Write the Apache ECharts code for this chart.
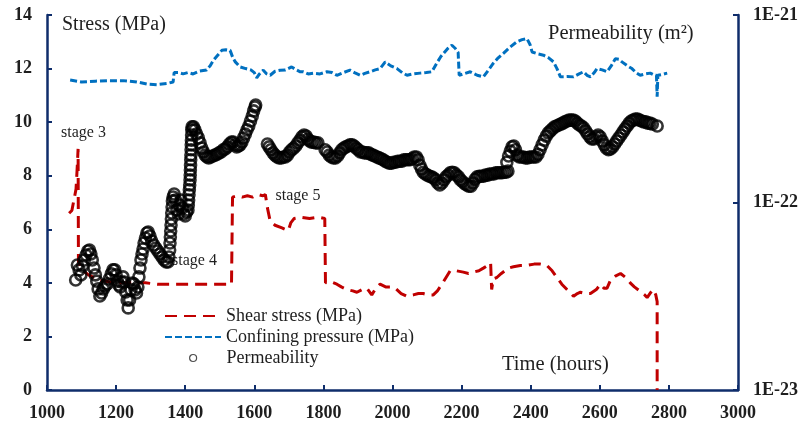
<!DOCTYPE html>
<html>
<head>
<meta charset="utf-8">
<script src="https://cdn.jsdelivr.net/npm/echarts@6/dist/echarts.min.js"></script>
<style>
  html, body { margin: 0; padding: 0; background: #fff; }
  #chart { width: 803px; height: 425px; }
</style>
</head>
<body>
<div id="chart"></div>
<script>
// Time in hours, stress in MPa
const shearStress = [
  [1064,6.6],[1072,6.7],[1078,7.1],[1084,7.5],[1087,8.2],[1090,9.0],[1091,4.8],[1100,4.5],[1120,4.3],
  [1150,4.1],[1200,4.0],[1250,4.0],[1285,4.0],[1320,3.95],[1360,3.95],[1400,3.95],[1440,3.95],
  [1480,3.95],[1520,3.95],[1534,3.95],[1537,7.2],[1550,7.25],[1565,7.2],[1580,7.25],[1595,7.2],
  [1610,7.3],[1625,7.25],[1632,7.3],[1638,6.8],[1646,6.3],[1660,6.15],[1680,6.05],[1698,5.95],
  [1706,6.25],[1715,6.4],[1735,6.45],[1760,6.4],[1785,6.45],[1804,6.4],[1806,4.0],[1820,4.05],
  [1839,3.95],[1852,3.85],[1868,3.75],[1885,3.7],[1897,3.65],[1912,3.75],[1926,3.8],[1940,3.55],
  [1952,3.8],[1964,3.95],[1980,3.85],[1995,3.85],[2008,3.8],[2025,3.6],[2041,3.5],[2060,3.55],
  [2075,3.6],[2089,3.6],[2104,3.55],[2118,3.55],[2130,3.7],[2143,3.95],[2155,4.2],[2167,4.45],
  [2185,4.45],[2205,4.4],[2220,4.35],[2234,4.4],[2250,4.45],[2263,4.55],[2275,4.65],[2284,4.75],
  [2287,3.75],[2292,4.15],[2302,4.2],[2315,4.35],[2335,4.55],[2350,4.6],[2370,4.65],[2389,4.65],
  [2410,4.7],[2428,4.7],[2447,4.65],[2462,4.45],[2476,4.2],[2490,3.95],[2505,3.75],[2524,3.5],
  [2535,3.6],[2544,3.65],[2560,3.6],[2573,3.6],[2590,3.75],[2602,3.95],[2612,3.8],[2621,3.8],
  [2631,4.1],[2645,4.25],[2660,4.35],[2675,4.2],[2688,4.0],[2700,3.85],[2715,3.7],[2730,3.55],
  [2737,3.45],[2748,3.65],[2755,3.75],[2762,3.55],[2766,3.3],[2766,0]
];

const confiningPressure = [
  [1067,11.57],[1100,11.5],[1140,11.53],[1180,11.55],[1220,11.55],[1260,11.5],[1290,11.42],
  [1318,11.4],[1350,11.45],[1365,11.5],[1368,11.85],[1380,11.85],[1394,11.8],[1408,11.85],
  [1423,11.8],[1440,11.9],[1462,11.95],[1472,12.1],[1481,12.3],[1494,12.5],[1506,12.68],
  [1518,12.7],[1530,12.68],[1538,12.4],[1545,12.25],[1559,12.06],[1575,12.0],[1590,11.95],
  [1600,11.85],[1607,11.65],[1615,11.8],[1626,11.94],[1636,11.8],[1646,11.75],[1660,11.9],
  [1675,11.94],[1690,11.95],[1708,12.06],[1722,11.95],[1733,11.88],[1742,11.88],[1756,11.8],
  [1771,11.83],[1790,11.8],[1810,11.88],[1825,11.85],[1839,11.75],[1858,11.85],[1877,11.94],
  [1890,11.85],[1907,11.75],[1920,11.82],[1935,11.88],[1950,11.95],[1964,12.0],[1979,12.25],
  [1995,12.1],[2013,12.0],[2028,11.85],[2042,11.75],[2060,11.8],[2080,11.83],[2098,11.85],
  [2114,11.88],[2128,12.2],[2140,12.45],[2150,12.6],[2160,12.75],[2172,12.87],[2182,12.75],
  [2190,12.6],[2193,11.75],[2196,11.69],[2210,11.82],[2225,11.88],[2245,11.75],[2263,11.69],
  [2278,11.95],[2292,12.2],[2306,12.4],[2321,12.57],[2340,12.8],[2360,13.0],[2375,13.08],
  [2389,13.12],[2398,12.9],[2404,12.62],[2420,12.55],[2437,12.5],[2452,12.4],[2466,12.25],
  [2476,12.0],[2486,11.69],[2505,11.7],[2524,11.69],[2540,11.8],[2553,11.88],[2563,11.75],
  [2573,11.69],[2584,11.85],[2592,12.0],[2607,11.95],[2621,11.88],[2633,12.1],[2645,12.37],
  [2655,12.35],[2664,12.25],[2680,12.1],[2693,12.0],[2705,11.85],[2717,11.75],[2732,11.8],
  [2746,11.83],[2758,11.75],[2764,11.75],[2766,10.95],[2768,11.75],[2780,11.78],[2795,11.83]
];

// Permeability in m^2, one array per continuous measurement run
const permeabilityRun1 = [
  [1083,3.86e-23],[1088,4.64e-23],[1093,4.37e-23],[1098,4.11e-23],[1103,4.58e-23],[1108,4.94e-23],
  [1113,5.25e-23],[1118,5.51e-23],[1123,5.58e-23],[1127,5.31e-23],[1131,4.94e-23],[1136,4.47e-23],
  [1140,4.11e-23],[1144,3.81e-23],[1148,3.46e-23],[1153,3.17e-23],[1158,3.29e-23],[1163,3.46e-23],
  [1168,3.59e-23],[1174,3.68e-23],[1180,3.91e-23],[1186,4.16e-23],[1191,4.37e-23],[1196,4.37e-23],
  [1200,4.11e-23],[1204,3.81e-23],[1208,3.63e-23],[1212,3.54e-23],[1216,3.77e-23],[1220,4.01e-23],
  [1224,3.77e-23],[1228,3.33e-23],[1232,3.02e-23],[1235,2.74e-23],[1239,3.02e-23],[1243,3.42e-23],
  [1247,3.72e-23],[1251,3.68e-23],[1255,3.42e-23],[1259,3.29e-23],[1263,3.54e-23],[1266,4.01e-23],
  [1269,4.47e-23],[1272,4.94e-23],[1275,5.31e-23],[1278,5.65e-23],[1281,6.08e-23],[1285,6.47e-23],
  [1289,6.88e-23],[1293,6.96e-23],[1298,6.63e-23],[1303,6.23e-23],[1309,5.93e-23],[1315,5.72e-23],
  [1321,5.51e-23],[1327,5.31e-23],[1333,5.12e-23],[1339,4.94e-23],[1345,4.82e-23],[1350,4.82e-23],
  [1353,5.12e-23],[1355,5.58e-23],[1356,6.08e-23],[1357,6.55e-23],[1358,7.05e-23],[1359,7.59e-23],
  [1360,8.17e-23],[1361,8.79e-23],[1362,9.46e-23],[1363,1.02e-22],[1365,1.07e-22],[1368,1.11e-22],
  [1372,1.03e-22],[1376,9.12e-23],[1380,8.68e-23],[1384,9.70e-23],[1388,1.03e-22],[1392,9.35e-23],
  [1396,8.68e-23],[1400,8.47e-23],[1404,8.90e-23],[1408,9.12e-23],[1409,9.70e-23],[1410,1.03e-22],
  [1411,1.10e-22],[1412,1.17e-22],[1413,1.24e-22],[1414,1.32e-22],[1414.5,1.40e-22],[1415,1.49e-22],
  [1415.5,1.58e-22],[1416,1.69e-22],[1416.5,1.79e-22],[1417,1.91e-22],[1417.5,2.03e-22],[1418,2.15e-22],
  [1418.5,2.29e-22],[1419,2.44e-22],[1420,2.53e-22],[1424,2.53e-22],[1428,2.44e-22],[1433,2.32e-22],
  [1438,2.21e-22],[1443,2.08e-22],[1448,1.95e-22],[1453,1.86e-22],[1458,1.79e-22],[1463,1.75e-22],
  [1468,1.73e-22],[1474,1.75e-22],[1480,1.77e-22],[1486,1.79e-22],[1492,1.81e-22],[1498,1.84e-22],
  [1504,1.86e-22],[1510,1.91e-22],[1516,1.93e-22],[1522,1.98e-22],[1528,2.05e-22],[1534,2.10e-22],
  [1539,2.10e-22],[1544,2.03e-22],[1549,1.98e-22],[1554,2.00e-22],[1559,2.03e-22],[1564,2.10e-22],
  [1569,2.21e-22],[1574,2.32e-22],[1579,2.44e-22],[1584,2.56e-22],[1589,2.72e-22],[1594,2.89e-22],
  [1598,3.08e-22],[1602,3.23e-22],[1604,3.31e-22]
];
const permeabilityRun2 = [
  [1638,2.05e-22],[1643,1.98e-22],[1648,1.91e-22],[1654,1.84e-22],[1660,1.79e-22],[1666,1.75e-22],
  [1672,1.73e-22],[1678,1.73e-22],[1684,1.75e-22],[1690,1.75e-22],[1696,1.79e-22],[1702,1.86e-22],
  [1708,1.91e-22],[1714,1.95e-22],[1720,2.00e-22],[1726,2.08e-22],[1732,2.15e-22],[1738,2.24e-22],
  [1744,2.29e-22],[1750,2.26e-22],[1755,2.18e-22],[1760,2.13e-22],[1766,2.10e-22],[1772,2.10e-22],
  [1778,2.08e-22],[1784,2.08e-22]
];
const permeabilityRun3 = [
  [1805,1.91e-22],[1811,1.86e-22],[1817,1.79e-22],[1823,1.75e-22],[1829,1.73e-22],[1835,1.73e-22],
  [1841,1.77e-22],[1847,1.84e-22],[1853,1.91e-22],[1859,1.95e-22],[1865,1.98e-22],[1871,2.00e-22],
  [1877,2.03e-22],[1883,2.03e-22],[1889,2.00e-22],[1895,1.95e-22],[1901,1.91e-22],[1907,1.86e-22],
  [1913,1.86e-22],[1919,1.84e-22],[1925,1.84e-22],[1931,1.84e-22],[1937,1.81e-22],[1943,1.79e-22],
  [1949,1.77e-22],[1955,1.75e-22],[1961,1.73e-22],[1967,1.71e-22],[1973,1.69e-22],[1979,1.66e-22],
  [1985,1.64e-22],[1991,1.62e-22],[1997,1.62e-22],[2003,1.64e-22],[2009,1.64e-22],[2015,1.66e-22],
  [2021,1.66e-22],[2027,1.66e-22],[2033,1.69e-22],[2039,1.69e-22],[2045,1.69e-22],[2051,1.69e-22],
  [2057,1.71e-22],[2063,1.75e-22],[2069,1.75e-22],[2074,1.69e-22],[2079,1.58e-22],[2084,1.51e-22],
  [2089,1.45e-22],[2095,1.42e-22],[2101,1.40e-22],[2107,1.38e-22],[2113,1.37e-22],[2119,1.35e-22],
  [2125,1.32e-22],[2131,1.27e-22],[2137,1.24e-22],[2143,1.27e-22],[2149,1.32e-22],[2155,1.37e-22],
  [2161,1.40e-22],[2167,1.44e-22],[2173,1.45e-22],[2179,1.44e-22],[2185,1.40e-22],[2191,1.37e-22],
  [2197,1.32e-22],[2203,1.29e-22],[2209,1.26e-22],[2215,1.24e-22],[2221,1.22e-22],[2227,1.22e-22],
  [2233,1.27e-22],[2239,1.33e-22],[2245,1.37e-22],[2251,1.38e-22],[2257,1.38e-22],[2263,1.38e-22],
  [2269,1.40e-22],[2275,1.40e-22],[2281,1.42e-22],[2287,1.42e-22],[2293,1.42e-22],[2299,1.44e-22],
  [2305,1.44e-22],[2311,1.44e-22],[2317,1.44e-22],[2323,1.45e-22],[2329,1.45e-22],[2334,1.47e-22]
];
const permeabilityRun4 = [
  [2331,1.64e-22],[2336,1.77e-22],[2341,1.88e-22],[2346,1.98e-22],[2351,2.00e-22],[2356,1.91e-22],
  [2361,1.79e-22],[2367,1.75e-22],[2373,1.75e-22],[2379,1.75e-22],[2385,1.73e-22],[2391,1.73e-22],
  [2397,1.75e-22],[2403,1.75e-22],[2409,1.75e-22],[2415,1.75e-22],[2421,1.81e-22],[2427,1.91e-22],
  [2433,2.03e-22],[2439,2.15e-22],[2445,2.26e-22],[2451,2.35e-22],[2457,2.41e-22],[2463,2.47e-22],
  [2469,2.53e-22],[2475,2.56e-22],[2481,2.59e-22],[2487,2.62e-22],[2493,2.65e-22],[2499,2.69e-22],
  [2505,2.72e-22],[2511,2.75e-22],[2517,2.75e-22],[2523,2.75e-22],[2529,2.72e-22],[2535,2.65e-22],
  [2541,2.59e-22],[2547,2.56e-22],[2553,2.50e-22],[2559,2.41e-22],[2565,2.32e-22],[2571,2.24e-22],
  [2577,2.18e-22],[2583,2.18e-22],[2589,2.24e-22],[2595,2.29e-22],[2601,2.24e-22],[2607,2.13e-22],
  [2613,2.03e-22],[2619,1.95e-22],[2625,1.91e-22],[2631,1.93e-22],[2637,1.98e-22],[2643,2.05e-22],
  [2649,2.13e-22],[2655,2.21e-22],[2661,2.29e-22],[2667,2.38e-22],[2673,2.47e-22],[2679,2.56e-22],
  [2685,2.65e-22],[2691,2.72e-22],[2697,2.75e-22],[2703,2.79e-22],[2709,2.79e-22],[2715,2.75e-22],
  [2721,2.72e-22],[2727,2.69e-22],[2733,2.69e-22],[2739,2.65e-22],[2745,2.65e-22],[2752,2.62e-22],
  [2766,2.56e-22]
];
const permeabilityRuns = [permeabilityRun1, permeabilityRun2, permeabilityRun3, permeabilityRun4];

const xTickStep = 200;
const stressTickStep = 2;

// The log axis works in multiples of 1E-23 m^2 (very small raw magnitudes
// lose precision inside the scale's rounding), labels are written back in m^2.
const PERM_UNIT = 1e-23;
const PERM_UNIT_EXP = -23;
const toUnit = p => [p[0], p[1] / PERM_UNIT];

const NAVY = '#0f2d6b';
const SERIF = '"Liberation Serif", "Times New Roman", serif';
const TEXT = '#1e1e1e';

const permPoints = [].concat(...permeabilityRuns).map(toUnit);

const chart = echarts.init(document.getElementById('chart'), null, { renderer: 'canvas' });

const axisLabelStyle = { fontFamily: SERIF, fontWeight: 'bold', fontSize: 18, color: TEXT };

chart.setOption({
  animation: false,
  backgroundColor: '#fff',
  grid: { left: 47, right: 65, top: 15, bottom: 35, containLabel: false },
  xAxis: {
    type: 'value', min: 1000, max: 3000, interval: xTickStep,
    axisLine: { onZero: false, lineStyle: { color: NAVY, width: 2.5 } },
    axisTick: { inside: true, length: 5, lineStyle: { color: NAVY, width: 2 } },
    axisLabel: Object.assign({ margin: 14, formatter: v => String(v) }, axisLabelStyle),
    splitLine: { show: false }
  },
  yAxis: [
    {
      type: 'value', min: 0, max: 14, interval: stressTickStep, position: 'left',
      axisLine: { show: true, onZero: false, lineStyle: { color: NAVY, width: 2.5 } },
      axisTick: { show: true, inside: true, length: 5, lineStyle: { color: NAVY, width: 2 } },
      axisLabel: Object.assign({ margin: 15 }, axisLabelStyle),
      splitLine: { show: false }
    },
    {
      type: 'log', logBase: 10, min: 1, max: 100, position: 'right',
      axisLine: { show: true, onZero: false, lineStyle: { color: NAVY, width: 2.5 } },
      axisTick: { show: true, inside: true, length: 5, lineStyle: { color: NAVY, width: 2 } },
      axisLabel: Object.assign({
        margin: 15,
        formatter: v => '1E' + (Math.round(Math.log10(v)) + PERM_UNIT_EXP)
      }, axisLabelStyle),
      splitLine: { show: false }
    }
  ],
  legend: [
    {
      data: ['Shear stress (MPa)', 'Confining pressure (MPa)'],
      orient: 'vertical', left: 164, top: 307, padding: 0,
      itemWidth: 56, itemHeight: 14, itemGap: 3,
      itemStyle: { opacity: 0 },
      textStyle: { fontFamily: SERIF, fontSize: 18, color: TEXT },
      selectedMode: false
    },
    {
      data: ['Permeability'],
      orient: 'vertical', left: 189, top: 349, padding: 0,
      itemWidth: 7, itemHeight: 7, icon: 'circle',
      itemStyle: { color: 'rgba(0,0,0,0)', borderWidth: 1.2, borderColor: '#222' },
      textStyle: { fontFamily: SERIF, fontSize: 18, color: TEXT, padding: [0, 0, 0, 25] },
      selectedMode: false
    }
  ],
  series: [
    {
      name: 'Shear stress (MPa)', type: 'line', yAxisIndex: 0,
      data: shearStress, symbol: 'none', z: 3,
      lineStyle: { color: '#c00000', width: 3, type: [12, 7] },
      itemStyle: { color: '#c00000' }
    },
    {
      name: 'Confining pressure (MPa)', type: 'line', yAxisIndex: 0,
      data: confiningPressure, symbol: 'none', z: 3,
      lineStyle: { color: '#0070c0', width: 3, type: [7, 3] },
      itemStyle: { color: '#0070c0' }
    },
    {
      // hollow rings with no fill, so dense runs merge into a solid band
      name: 'Permeability', type: 'scatter', yAxisIndex: 1,
      data: permPoints, symbol: 'circle', symbolSize: 11, z: 5,
      itemStyle: { color: 'rgba(0,0,0,0)', borderColor: '#000', borderWidth: 2.6 }
    }
  ],
  graphic: [
    { type: 'text', x: 62, y: 25, style: { text: 'Stress (MPa)', font: '20px ' + SERIF, fill: TEXT, verticalAlign: 'middle' } },
    { type: 'text', x: 548, y: 34, style: { text: 'Permeability (m²)', font: '20.5px ' + SERIF, fill: TEXT, verticalAlign: 'middle' } },
    { type: 'text', x: 502, y: 365, style: { text: 'Time (hours)', font: '20.5px ' + SERIF, fill: TEXT, verticalAlign: 'middle' } },
    { type: 'text', x: 61, y: 132.5, style: { text: 'stage 3', font: '16px ' + SERIF, fill: TEXT, verticalAlign: 'middle' } },
    { type: 'text', x: 172, y: 261, style: { text: 'stage 4', font: '16px ' + SERIF, fill: TEXT, verticalAlign: 'middle' } },
    { type: 'text', x: 275.5, y: 196, style: { text: 'stage 5', font: '16px ' + SERIF, fill: TEXT, verticalAlign: 'middle' } }
  ]
});
</script>
</body>
</html>
